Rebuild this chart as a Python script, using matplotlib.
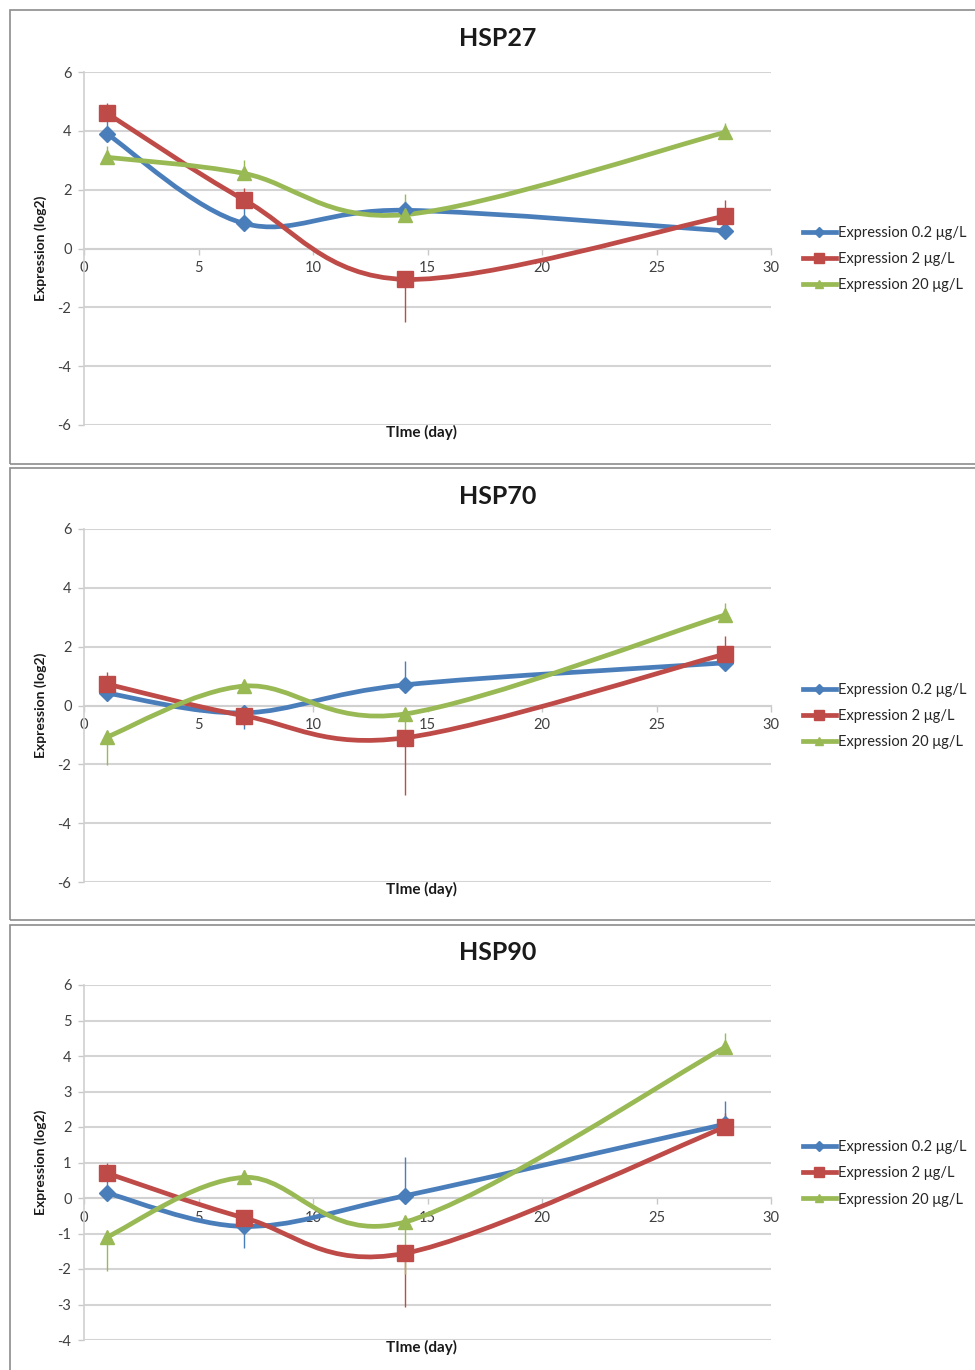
import numpy as np
import matplotlib
matplotlib.use("Agg")
import matplotlib.pyplot as plt
from matplotlib.path import Path
from matplotlib.patches import PathPatch, Rectangle
from matplotlib.lines import Line2D

plt.rcParams['font.family'] = ['Lato', 'DejaVu Sans']
plt.rcParams['axes.unicode_minus'] = False

# sampling days
days = [1, 7, 14, 28]
labels = ["Expression 0.2 \u03bcg/L", "Expression 2 \u03bcg/L", "Expression 20 \u03bcg/L"]
colors = ['#4a7ebb', '#be4b48', '#98b954']
markers = ['D', 's', '^']
msizes = [8, 11.5, 10]

# HSP27
hsp27_low = [3.9, 0.85, 1.3, 0.6]
hsp27_mid = [4.6, 1.65, -1.05, 1.1]
hsp27_high = [3.1, 2.55, 1.15, 3.95]
hsp27_err_low = [0.6, 0.8, 0.3, 0.1]
hsp27_err_mid = [0.35, 0.4, 1.45, 0.55]
hsp27_err_high = [0.4, 0.45, 0.7, 0.3]

# HSP70
hsp70_low = [0.42, -0.25, 0.7, 1.45]
hsp70_mid = [0.73, -0.35, -1.1, 1.75]
hsp70_high = [-1.07, 0.66, -0.29, 3.08]
hsp70_err_low = [0.3, 0.55, 0.8, 0.2]
hsp70_err_mid = [0.4, 0.3, 1.95, 0.6]
hsp70_err_high = [0.95, 0.2, 0.7, 0.4]

# HSP90
hsp90_low = [0.14, -0.8, 0.06, 2.08]
hsp90_mid = [0.7, -0.56, -1.56, 2.0]
hsp90_high = [-1.1, 0.58, -0.68, 4.25]
hsp90_err_low = [0.4, 0.6, 1.1, 0.65]
hsp90_err_mid = [0.3, 0.3, 1.5, 0.4]
hsp90_err_high = [0.95, 0.2, 1.45, 0.4]

panels = [
    ("HSP27", [hsp27_low, hsp27_mid, hsp27_high], [hsp27_err_low, hsp27_err_mid, hsp27_err_high], (-6, 6), 2),
    ("HSP70", [hsp70_low, hsp70_mid, hsp70_high], [hsp70_err_low, hsp70_err_mid, hsp70_err_high], (-6, 6), 2),
    ("HSP90", [hsp90_low, hsp90_mid, hsp90_high], [hsp90_err_low, hsp90_err_mid, hsp90_err_high], (-4, 6), 1),
]


def smooth_path(x, y):
    # bezier segments like Excel's smoothed line
    pts = np.column_stack([x, y]).astype(float)
    n = len(pts)
    verts = [pts[0]]
    codes = [Path.MOVETO]
    for i in range(n - 1):
        p0 = pts[i - 1] if i > 0 else pts[i]
        p1 = pts[i]
        p2 = pts[i + 1]
        p3 = pts[i + 2] if i + 2 < n else pts[i + 1]
        c1 = p1 + (p2 - p0) / 6.0
        c2 = p2 - (p3 - p1) / 6.0
        verts += [c1, c2, p2]
        codes += [Path.CURVE4] * 3
    return Path(verts, codes)


W, H = 975, 1370
fig = plt.figure(figsize=(W / 100, H / 100), dpi=100)

# panel frames (pixels)
frames = [(10, 464), (468, 920), (925, 1380)]
# axes positions: top, bottom pixel
axes_px = [(72, 425), (529, 882), (985, 1340)]
ax_left, ax_right = 84, 771
axw = ax_right - ax_left

for (title, series, errs, ylim, ystep), (ftop, fbot), (atop, abot) in zip(panels, frames, axes_px):
    axh = abot - atop
    fig.add_artist(Rectangle((10 / W, 1 - fbot / H), 1.0, (fbot - ftop) / H,
                             transform=fig.transFigure, fill=False,
                             edgecolor='#8c8c8c', linewidth=1.2))
    ax = fig.add_axes([ax_left / W, 1 - abot / H, axw / W, axh / H])
    ax.set_xlim(0, 30)
    ax.set_ylim(*ylim)
    ax.set_yticks(np.arange(ylim[0], ylim[1] + 0.1, ystep))
    ax.set_xticks(np.arange(0, 31, 5))
    ax.yaxis.grid(True, color='#d4d4d4', linewidth=1.5)
    ax.set_axisbelow(True)
    for s in ['top', 'right']:
        ax.spines[s].set_visible(False)
    ax.spines['left'].set_color('#d0d0d0')
    ax.spines['left'].set_linewidth(1.2)
    ax.spines['bottom'].set_position(('data', 0))
    ax.spines['bottom'].set_color('#d0d0d0')
    ax.spines['bottom'].set_linewidth(1.5)
    ax.tick_params(axis='y', length=4, width=1, color='#c8c8c8', pad=5,
                   labelsize=10.5, labelcolor='#404040')
    ax.tick_params(axis='x', length=4, width=1, color='#c8c8c8', pad=5,
                   labelsize=10.5, labelcolor='#404040')

    handles = []
    for vals, err, col, mk, ms in zip(series, errs, colors, markers, msizes):
        vals = np.array(vals)
        err = np.array(err)
        lower = np.where(vals < 0, err, 0)
        upper = np.where(vals >= 0, err, 0)
        ax.errorbar(days, vals, yerr=[lower, upper], fmt='none', ecolor=col,
                    elinewidth=1, capsize=0, zorder=3)
        ax.add_patch(PathPatch(smooth_path(days, vals), facecolor='none',
                               edgecolor=col, linewidth=3.4, capstyle='round', zorder=4))
        ax.plot(days, vals, linestyle='none', marker=mk, markersize=ms,
                markerfacecolor=col, markeredgecolor=col, zorder=5)
        handles.append(Line2D([], [], color=col, linewidth=3.4, marker=mk,
                              markersize=ms * 0.6, markerfacecolor=col, markeredgecolor=col))

    ax.legend(handles, labels, loc='center left', bbox_to_anchor=(1.046, 0.47),
              frameon=False, fontsize=10.5, handlelength=2.3, handletextpad=0.1,
              labelspacing=0.85, borderpad=0, borderaxespad=0, labelcolor='#262626')

    ax.text((498 - ax_left) / axw, 1 + 33 / axh, title,
            transform=ax.transAxes, ha='center', va='center', fontsize=18,
            fontweight='bold', color='#1a1a1a')
    ax.text(-43 / axw, 0.5, "Expression (log2)", transform=ax.transAxes,
            rotation=90, ha='center', va='center', fontsize=10, fontweight='bold', color='#1a1a1a')
    ax.text((421 - ax_left) / axw, -7 / axh, "TIme (day)",
            transform=ax.transAxes, ha='center', va='center', fontsize=11,
            fontweight='bold', color='#1a1a1a')

fig.savefig("out.png", dpi=100)
